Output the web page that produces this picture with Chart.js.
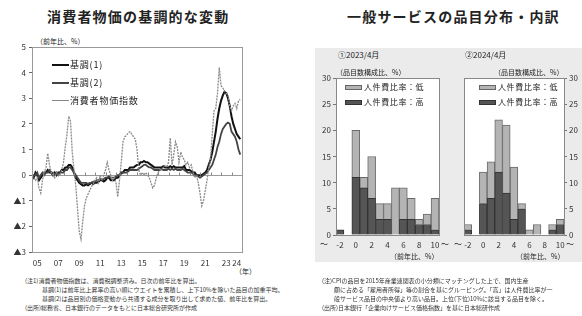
<!DOCTYPE html>
<html><head><meta charset="utf-8">
<script src="https://cdn.jsdelivr.net/npm/chart.js@4"></script>
<style>
html,body{margin:0;padding:0;background:#fff;}
body{width:582px;height:316px;position:relative;overflow:hidden;font-family:"Noto Sans CJK JP","Noto Sans",sans-serif;color:#222;}
.a{position:absolute;white-space:nowrap;line-height:1;}
canvas{position:absolute;}
.t{font-size:14px;font-weight:bold;letter-spacing:1.2px;color:#222;}
.fn{font-size:6px;color:#333;line-height:9px;}
.lg{font-size:9px;letter-spacing:0.8px;}
.hl{font-size:8px;letter-spacing:0.6px;}
.sw{position:absolute;width:17px;height:5px;box-sizing:border-box;}
</style></head><body>
<div class="a t" style="left:47px;top:9px;">消費者物価の基調的な変動</div>
<div class="a t" style="left:347px;top:9px;">一般サービスの品目分布・内訳</div>
<div class="a" style="left:36px;top:38px;font-size:7px;">（前年比、%）</div>
<div class="a" style="left:235px;top:268px;font-size:7px;">（年）</div>

<div style="position:absolute;left:315px;top:48px;width:267px;height:214px;background:#ebebeb;"></div>

<canvas id="c1" width="252" height="236" style="left:0;top:38px;"></canvas>
<canvas id="c2" width="136" height="184" style="left:310px;top:70px;"></canvas>
<canvas id="c3" width="125" height="184" style="left:455px;top:70px;"></canvas>

<!-- line chart legend -->
<div class="sw" style="left:52px;top:64px;height:2px;background:#111;"></div>
<div class="a lg" style="left:70px;top:60px;">基調(1)</div>
<div class="sw" style="left:52px;top:82px;height:2px;background:#444;"></div>
<div class="a lg" style="left:70px;top:78px;">基調(2)</div>
<div class="sw" style="left:52px;top:100px;height:1px;background:#888;"></div>
<div class="a lg" style="left:70px;top:96px;">消費者物価指数</div>

<!-- histogram texts -->
<div class="a" style="left:338px;top:51px;font-size:8px;">①2023/4月</div>
<div class="a" style="left:336px;top:69px;font-size:7px;">（品目数構成比、%）</div>
<div class="a" style="left:465px;top:51px;font-size:8px;">②2024/4月</div>
<div class="a" style="left:494px;top:69px;font-size:7px;">（品目数構成比、%）</div>

<div class="sw" style="left:345px;top:85px;background:#b4b4b4;border:1px solid #666;"></div>
<div class="a hl" style="left:364px;top:83px;">人件費比率：低</div>
<div class="sw" style="left:345px;top:100px;background:#555;border:1px solid #333;"></div>
<div class="a hl" style="left:364px;top:98px;">人件費比率：高</div>
<div class="sw" style="left:479px;top:85px;background:#b4b4b4;border:1px solid #666;"></div>
<div class="a hl" style="left:498px;top:83px;">人件費比率：低</div>
<div class="sw" style="left:479px;top:100px;background:#555;border:1px solid #333;"></div>
<div class="a hl" style="left:498px;top:98px;">人件費比率：高</div>

<div class="a" style="left:320px;top:240px;font-size:8px;">～</div>
<div class="a" style="left:441px;top:240px;font-size:8px;">～</div>
<div class="a" style="left:454px;top:240px;font-size:8px;">～</div>
<div class="a" style="left:566px;top:240px;font-size:8px;">～</div>
<div class="a" style="left:390px;top:253px;font-size:7px;">（前年比、%）</div>
<div class="a" style="left:516px;top:253px;font-size:7px;">（前年比、%）</div>

<!-- footnotes -->
<div class="a fn" style="left:25px;top:276px;">
(注1)消費者物価指数は、消費税調整済み。日次の前年比を算出。<br>
<span style="padding-left:17px">基調(1)は前年比上昇率の高い順にウエイトを累積し、上下10%を除いた品目の加重平均。</span><br>
<span style="padding-left:17px">基調(2)は品目別の価格変動から共通する成分を取り出して求めた値、前年比を算出。</span><br>
(出所)総務省、日本銀行のデータをもとに日本総合研究所が作成
</div>
<div class="a fn" style="left:322px;top:276px;">
(注)CPIの品目を2015年産業連関表の小分類にマッチングした上で、国内生産<br>
<span style="padding-left:12px">額に占める「雇用者所得」等の割合を基にグルーピング。「高」は人件費比率が一</span><br>
<span style="padding-left:12px">般サービス品目の中央値より高い品目。上位(下位)10%に該当する品目を除く。</span><br>
(出所)日本銀行「企業向けサービス価格指数」を基に日本総研作成
</div>

<script>
// ---- Left chart data (2-month steps from Jan 2005) ----
const startYear = 2005;
const stepYears = 1/6;
const cpi = [
 0.0,-0.1,-0.2,-0.1,-0.5,-0.7,
 -0.2,0.1,0.3,0.85,0.4,0.1,
 0.0,-0.1,0.1,0.0,0.0,0.2,
 0.5,1.1,1.6,2.3,2.1,0.9,
 0.2,-0.4,-1.3,-2.2,-2.5,-1.8,
 -1.2,-0.9,-0.75,-0.6,-0.45,-0.35,
 -0.2,-0.1,-0.3,0.0,-0.2,0.0,
 0.2,0.5,0.2,0.0,-0.2,-0.1,
 -0.3,-0.85,-0.2,0.5,1.3,1.5,
 1.55,1.65,1.7,1.6,1.5,1.4,
 1.0,0.2,0.0,0.1,0.0,0.1,
 0.0,-0.1,-0.3,-0.5,-0.4,-0.1,
 0.1,0.2,0.2,0.3,0.4,0.3,
 0.5,1.45,0.4,0.8,1.3,1.1,
 0.5,0.9,0.7,0.6,0.4,0.5,
 0.3,0.4,0.1,-0.1,0.0,-0.3,
 -0.7,-1.2,-1.0,-0.6,-0.2,0.3,
 0.6,1.6,2.5,2.6,3.2,4.2,
 3.5,3.4,3.3,3.2,3.1,2.7,
 2.5,2.7,2.8,2.6,2.9,2.95
];
const base1 = [
 0.0,-0.1,0.1,0.0,-0.2,-0.1,
 0.0,0.1,0.1,0.2,0.1,0.1,
 0.0,0.1,0.0,0.1,0.1,0.2,
 0.2,0.3,0.3,0.4,0.4,0.3,
 0.1,-0.1,-0.2,-0.3,-0.35,-0.4,
 -0.4,-0.35,-0.4,-0.35,-0.3,-0.35,
 -0.3,-0.3,-0.25,-0.2,-0.2,-0.25,
 -0.2,-0.1,-0.1,-0.2,-0.2,-0.2,
 -0.1,-0.1,0.0,0.1,0.1,0.2,
 0.2,0.2,0.3,0.3,0.3,0.35,
 0.4,0.4,0.5,0.5,0.55,0.5,
 0.5,0.45,0.4,0.35,0.3,0.3,
 0.3,0.3,0.3,0.35,0.3,0.3,
 0.3,0.35,0.3,0.35,0.3,0.3,
 0.3,0.3,0.3,0.35,0.2,0.2,
 0.2,0.15,0.1,0.1,0.0,0.0,
 0.0,0.0,0.05,0.1,0.2,0.4,
 0.6,0.9,1.3,1.7,2.2,2.6,
 2.9,3.1,3.25,3.2,3.0,2.7,
 2.3,2.0,1.8,1.6,1.5,1.4
];
const base2 = [
 -0.1,0.0,0.0,0.1,-0.1,0.0,
 0.1,0.0,0.1,0.1,0.2,0.1,
 0.1,0.0,0.1,0.0,0.1,0.1,
 0.1,0.2,0.2,0.3,0.3,0.2,
 0.1,0.0,-0.1,-0.2,-0.3,-0.3,
 -0.3,-0.3,-0.35,-0.3,-0.3,-0.25,
 -0.25,-0.2,-0.2,-0.15,-0.2,-0.15,
 -0.1,-0.1,-0.05,-0.1,-0.1,-0.1,
 -0.05,0.0,0.0,0.05,0.1,0.1,
 0.1,0.15,0.2,0.2,0.2,0.2,
 0.2,0.25,0.3,0.35,0.4,0.4,
 0.35,0.3,0.3,0.25,0.2,0.2,
 0.2,0.2,0.25,0.2,0.2,0.2,
 0.25,0.2,0.25,0.2,0.25,0.2,
 0.2,0.2,0.25,0.2,0.15,0.1,
 0.1,0.1,0.05,0.0,0.0,-0.05,
 -0.1,-0.05,0.0,0.05,0.1,0.2,
 0.3,0.4,0.6,0.8,1.1,1.3,
 1.6,1.8,1.9,2.0,2.05,2.0,
 1.7,1.6,1.5,1.3,1.0,0.8
];
const xTickYears = [2005,2007,2009,2011,2013,2015,2017,2019,2021,2023,2024];
const yTicksLeft = [5,4,3,2,1,0,-1,-2,-3];

// ---- Histogram data ----
const bins = ['-2','-1','0','1','2','3','4','5','6','7','8','9','10'];
const high2023 = [1,0,11,9,7,3,3,0,3,3,2,2,1];
const low2023  = [0,0,9,2,8,3,3,9,6,4,1,2,6];
const high2024 = [1,0,6,7,12,8,3,5,0,0,0,1,2];
const low2024  = [1,0,6,7,10,13,10,1,1,2,0,1,1];

const FONT = '"Noto Sans CJK JP","Noto Sans",sans-serif';
Chart.defaults.font.family = FONT;
Chart.defaults.color = '#333';

const toPts = arr => arr.map((v,i)=>({x:startYear+i*stepYears, y:v}));

const frame = (color,fillWhite) => ({
  id:'frame',
  beforeDraw(chart){
    if(!fillWhite) return;
    const a=chart.chartArea, c=chart.ctx;
    c.save(); c.fillStyle='#fff'; c.fillRect(a.left,a.top,a.right-a.left,a.bottom-a.top); c.restore();
  },
  afterDraw(chart){
    const a=chart.chartArea, c=chart.ctx;
    c.save(); c.strokeStyle=color; c.lineWidth=1;
    c.strokeRect(Math.round(a.left)+0.5,Math.round(a.top)+0.5,Math.round(a.right-a.left),Math.round(a.bottom-a.top));
    c.restore();
  }
});

const zeroTicks = {
  id:'zeroTicks',
  afterDatasetsDraw(chart){
    const xs=chart.scales.x, ys=chart.scales.y, c=chart.ctx;
    const y0=Math.round(ys.getPixelForValue(0))+0.5;
    c.save(); c.strokeStyle='#888'; c.lineWidth=1;
    for(let yr=2006; yr<=2024; yr++){
      const px=Math.round(xs.getPixelForValue(yr))+0.5;
      c.beginPath(); c.moveTo(px,y0); c.lineTo(px,y0-3); c.stroke();
    }
    c.restore();
  }
};

new Chart(document.getElementById('c1'),{
  type:'line',
  data:{datasets:[
    {label:'消費者物価指数',data:toPts(cpi),borderColor:'#8a8a8a',borderWidth:1.3,borderDash:[2,1],pointRadius:0,tension:0},
    {label:'基調(2)',data:toPts(base2),borderColor:'#444',borderWidth:1.8,pointRadius:0,tension:0},
    {label:'基調(1)',data:toPts(base1),borderColor:'#111',borderWidth:2,pointRadius:0,tension:0}
  ]},
  options:{
    responsive:false,devicePixelRatio:1,animation:false,
    layout:{padding:{top:9,right:10,left:0,bottom:0}},
    plugins:{legend:{display:false},tooltip:{enabled:false}},
    scales:{
      x:{type:'linear',min:2005,max:2025,
        afterFit(s){s.height=22;},
        afterBuildTicks(s){s.ticks=xTickYears.map(y=>({value:y+0.5}));},
        ticks:{autoSkip:false,maxRotation:0,padding:6,font:{size:8},color:'#333',
          callback:v=>String(Math.floor(v)%100).padStart(2,'0')},
        grid:{display:false,drawTicks:false},border:{display:false}},
      y:{min:-3,max:5,
        afterFit(s){s.width=32;},
        afterBuildTicks(s){s.ticks=yTicksLeft.map(v=>({value:v}));},
        ticks:{padding:3,font:{size:8},color:'#333',callback:v=>v<0?'▲'+(-v):String(v)},
        grid:{color:c=>c.tick&&c.tick.value===0?'#999':'rgba(0,0,0,0)',tickColor:'#666',tickLength:3,lineWidth:1},
        border:{display:false}}
    }
  },
  plugins:[frame('#999',false),zeroTicks]
});

function hist(id,high,low,pos){
  const isRight = pos==='right';
  new Chart(document.getElementById(id),{
    type:'bar',
    data:{labels:bins,datasets:[
      {label:'人件費比率：高',data:high,backgroundColor:'#555',borderColor:'#333',borderWidth:1,barPercentage:1,categoryPercentage:1},
      {label:'人件費比率：低',data:low,backgroundColor:'#b4b4b4',borderColor:'#6a6a6a',borderWidth:1,barPercentage:1,categoryPercentage:1}
    ]},
    options:{
      responsive:false,devicePixelRatio:1,animation:false,
      layout:{padding:isRight?{top:8,left:9,right:0,bottom:0}:{top:8,right:7,left:0,bottom:0}},
      plugins:{legend:{display:false},tooltip:{enabled:false}},
      scales:{
        x:{stacked:true,afterFit(s){s.height=19;},
          ticks:{autoSkip:false,maxRotation:0,padding:5,font:{size:8},color:'#333',
            callback:(v,i)=>(i%2===0?bins[i]:'')},
          grid:{display:false,drawTicks:false},border:{display:false}},
        y:{stacked:true,position:isRight?'right':'left',min:0,max:30,
          afterFit(s){s.width=isRight?16:26;},
          ticks:{stepSize:5,padding:2,font:{size:8},color:'#333'},
          grid:{drawOnChartArea:false,tickColor:'#777',tickLength:3},
          border:{display:false}}
      }
    },
    plugins:[frame('#888',true)]
  });
}
hist('c2',high2023,low2023,'left');
hist('c3',high2024,low2024,'right');
</script>
</body></html>
